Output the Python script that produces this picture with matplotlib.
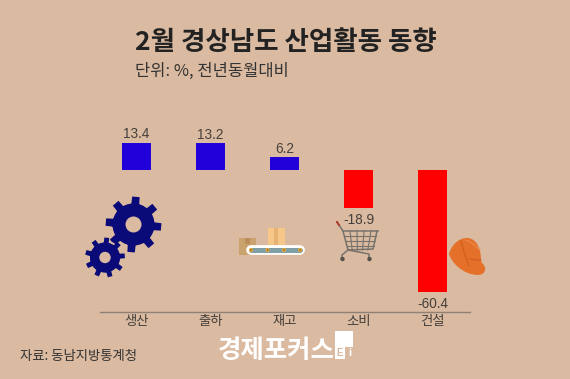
"""
2월 경상남도 산업활동 동향 막대 차트
"""

import numpy as np
import matplotlib
matplotlib.use("Agg")
import matplotlib.pyplot as plt
from matplotlib.patches import Circle, PathPatch, Polygon, Rectangle
from matplotlib.path import Path

plt.rcParams['font.family'] = ['Noto Sans CJK KR', 'DejaVu Sans']

categories = ['생산', '출하', '재고', '소비', '건설']
values = [13.4, 13.2, 6.2, -18.9, -60.4]
value_labels = ['13.4', '13.2', '6.2', '-18.9', '-60.4']

BG = '#dabaA0'
BLUE = '#2200d8'
RED = '#ff0000'
NAVY = '#0a0a78'
DARK = '#222222'
GREY = '#45403c'


def gear(ax, cx, cy, r_out, r_root, r_hole, teeth, rot):
    # 톱니바퀴 외곽 + 구멍
    pts = []
    step = 2 * np.pi / teeth
    for i in range(teeth):
        a = rot + i * step
        pts.append((r_root, a - step * 0.24))
        pts.append((r_out, a - step * 0.17))
        pts.append((r_out, a + step * 0.17))
        pts.append((r_root, a + step * 0.24))
    xy = [(cx + r * np.cos(a), cy + r * np.sin(a)) for r, a in pts]
    ax.add_patch(Polygon(xy, closed=True, fc=NAVY, ec='none'))
    ax.add_patch(Circle((cx, cy), r_root, fc=NAVY, ec='none'))
    ax.add_patch(Circle((cx, cy), r_hole, fc=BG, ec='none'))


def conveyor(ax):
    ax.add_patch(Rectangle((239, 238), 17, 17, fc='#c9a26e', ec='none'))
    ax.add_patch(Rectangle((245, 238), 5, 6, fc='#b98f5c', ec='none'))
    ax.add_patch(Rectangle((267.5, 228), 17, 17, fc='#f6c788', ec='none'))
    ax.add_patch(Rectangle((273.5, 228), 4, 17, fc='#e8b273', ec='none'))
    ax.plot([251, 300], [250, 250], color='white', lw=7, solid_capstyle='round')
    ax.plot([251, 300], [250, 250], color='#7f9ea6', lw=3.6, solid_capstyle='round')
    for x in [251, 267.5, 284, 300]:
        ax.add_patch(Circle((x, 250), 2.0, fc='#e9a92f', ec='none', zorder=3))
        ax.add_patch(Circle((x, 250), 0.7, fc='#6b4a20', ec='none', zorder=4))


def cart(ax):
    c = '#77736c'
    ax.plot([337, 343, 348, 373, 377], [222, 231, 250, 249, 231], color=c, lw=1.1)
    ax.plot([343, 378], [231, 231], color=c, lw=1.1)
    for t in np.linspace(0, 1, 6)[1:-1]:
        ax.plot([343 + 35 * t, 347 + 26 * t], [231, 250], color=c, lw=0.8)
    for y, x0, x1 in [(236, 344.5, 376), (241, 345.5, 375), (246, 346.5, 374)]:
        ax.plot([x0, x1], [y, y], color=c, lw=0.8)
    ax.plot([348, 342, 342], [250, 255, 259], color=c, lw=1.1)
    ax.plot([348, 369, 369], [250, 254, 259], color=c, lw=1.1)
    ax.plot([337, 339], [222, 225], color='#b03a2e', lw=1.4)
    ax.add_patch(Circle((342.5, 259), 2.2, fc='#55524c', ec='none', zorder=3))
    ax.add_patch(Circle((369.5, 259), 2.2, fc='#55524c', ec='none', zorder=3))


def helmet(ax):
    verts = [(449, 254), (451, 246), (458, 238), (467, 238),
             (477, 238), (481, 250), (481, 260),
             (481, 264), (486, 265), (485, 270),
             (484, 276), (476, 276), (468, 273),
             (460, 270), (452, 263), (449, 254)]
    codes = [Path.MOVETO] + [Path.CURVE4] * 15
    ax.add_patch(PathPatch(Path(verts, codes), fc='#e4702a', ec='none'))
    ax.plot([461, 464, 469], [241, 252, 266], color='#c95a1c', lw=0.7)
    ax.plot([470, 475, 481], [259, 260, 260], color='#c95a1c', lw=0.7)
    ax.plot([466, 472, 480], [240, 243, 250], color='#f08a48', lw=0.9)


def main():
    fig = plt.figure(figsize=(5.7, 3.79), dpi=100, facecolor=BG)
    W, H = 570.0, 379.0

    # 막대 축: 가로 100~470px, 세로 120~312px
    ax = fig.add_axes([100 / W, 1 - 312 / H, 370 / W, 192 / H])
    ax.patch.set_alpha(0)
    x = np.arange(len(categories))
    colors = [BLUE if v > 0 else RED for v in values]
    ax.bar(x, values, width=0.392, color=colors, zorder=3)
    ax.set_xlim(-0.493, 4.507)
    ax.set_ylim(-70.3, 24.75)
    ax.set_yticks([])
    ax.set_xticks(x)
    ax.set_xticklabels(categories, fontsize=9.6, color=GREY)
    ax.tick_params(axis='x', length=0, pad=1.8)
    for s in ['top', 'left', 'right']:
        ax.spines[s].set_visible(False)
    ax.spines['bottom'].set_color('#8f8176')
    ax.spines['bottom'].set_linewidth(1.0)

    for xi, v, lab in zip(x, values, value_labels):
        ax.annotate(lab, (xi, v), xytext=(0, 1.2 if v > 0 else -3.4), textcoords='offset points',
                    ha='center', va='bottom' if v > 0 else 'top',
                    fontsize=9.8, color=GREY, family='Liberation Sans')

    # 장식용 축: 픽셀 좌표
    deco = fig.add_axes([0, 0, 1, 1])
    deco.set_xlim(0, W)
    deco.set_ylim(H, 0)
    deco.axis('off')
    deco.patch.set_alpha(0)

    gear(deco, 133.5, 224.5, 28, 21, 8, 8, np.deg2rad(-85))
    deco.add_patch(Circle((105, 257.5), 17, fc=BG, ec='none'))
    gear(deco, 105, 257.5, 20, 15, 5.7, 9, np.deg2rad(-85))
    conveyor(deco)
    cart(deco)
    helmet(deco)

    deco.text(135, 42, '2월 경상남도 산업활동 동향', fontsize=19.1, fontweight='bold',
              color=DARK, va='center', ha='left')
    deco.text(135, 71, '단위: %, 전년동월대비', fontsize=11.9, color='#333333',
              va='center', ha='left')
    deco.text(20, 356, '자료: 동남지방통계청', fontsize=9.6, color='#333333',
              va='center', ha='left')

    # 로고
    deco.text(218, 350.5, '경제포커스', fontsize=18.3, fontweight='bold', color='white',
              va='center', ha='left')
    deco.add_patch(Rectangle((335, 331), 18, 16, fc='white', ec='none'))
    deco.add_patch(Rectangle((335, 347), 10, 12, fc='white', ec='none'))
    deco.text(340, 353.5, 'E', fontsize=7, color=BG, va='center', ha='center',
              family='Liberation Sans', fontweight='bold')
    deco.text(349.5, 353.5, 'i', fontsize=8, color='white', va='center', ha='center',
              family='Liberation Sans', fontweight='bold')

    fig.savefig('out.png', dpi=100, facecolor=BG)


if __name__ == "__main__":
    main()
